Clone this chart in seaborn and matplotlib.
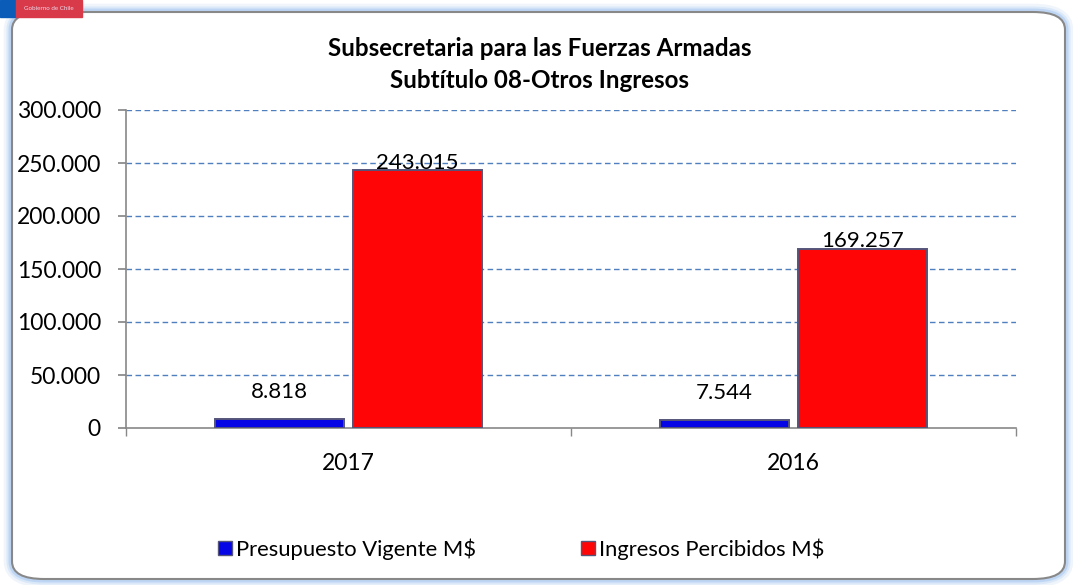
import matplotlib
matplotlib.use("Agg")
import matplotlib.pyplot as plt
import matplotlib.patches as mpatches
from matplotlib.ticker import FuncFormatter, FixedLocator
import pandas as pd
import seaborn as sns

# Data
years = ["2017", "2016"]
series = ["Presupuesto Vigente M$", "Ingresos Percibidos M$"]
presupuesto = [8818, 7544]
ingresos = [243015, 169257]
colors = ["#0505e6", "#ff0505"]

df = pd.DataFrame({
    "year": years * 2,
    "serie": [series[0]] * 2 + [series[1]] * 2,
    "value": presupuesto + ingresos,
})

sns.set_theme(style="white")
plt.rcParams["font.family"] = ["Lato", "DejaVu Sans"]
plt.rcParams["text.color"] = "black"
plt.rcParams["xtick.labelcolor"] = "black"
plt.rcParams["ytick.labelcolor"] = "black"

W, H = 1073, 585
fig = plt.figure(figsize=(W / 100, H / 100), dpi=100)

# Rounded frame with a soft blue glow
for lw, a in [(12, 0.15), (8, 0.25), (5, 0.45)]:
    fig.patches.append(mpatches.FancyBboxPatch(
        (12 / W, 6 / H), (W - 20) / W, (H - 18) / H,
        boxstyle="round,pad=0,rounding_size=0.03", transform=fig.transFigure,
        facecolor="none", edgecolor="#9cc2f0", linewidth=lw, alpha=a, zorder=0))
fig.patches.append(mpatches.FancyBboxPatch(
    (12 / W, 6 / H), (W - 20) / W, (H - 18) / H,
    boxstyle="round,pad=0,rounding_size=0.03", transform=fig.transFigure,
    facecolor="white", edgecolor="#888888", linewidth=1.5, zorder=0))

# Gobierno de Chile badge
fig.patches.append(mpatches.Rectangle((0, 1 - 17 / H), 16 / W, 17 / H,
                                      transform=fig.transFigure, color="#0a5cb8", zorder=3))
fig.patches.append(mpatches.Rectangle((16 / W, 1 - 17 / H), 66 / W, 17 / H,
                                      transform=fig.transFigure, color="#d83a4a", zorder=3))
fig.text(49 / W, 1 - 9 / H, "Gobierno de Chile", fontsize=4.5, color="#e8d8e8",
         ha="center", va="center", zorder=4)

ax = fig.add_axes([126 / W, 1 - 428 / H, (1016 - 126) / W, (428 - 110) / H])
ax.set_facecolor("none")
ax.set_zorder(5)

sns.barplot(data=df, x="year", y="value", hue="serie", hue_order=series,
            order=years, palette=colors, saturation=1, width=0.62, gap=0.06,
            edgecolor="#55557a", linewidth=1.4, ax=ax, legend=False, zorder=3)

ax.set_ylim(0, 300000)
ax.set_xlim(-0.5, 1.5)
ax.set_yticks(range(0, 300001, 50000))
fmt = lambda v, p: f"{int(v):,}".replace(",", ".")
ax.yaxis.set_major_formatter(FuncFormatter(fmt))
ax.tick_params(axis="y", labelsize=16.5, length=6, direction="out", color="#888888",
               pad=12, left=True)
ax.tick_params(axis="x", which="major", length=0, labelsize=16.5, pad=18)
ax.xaxis.set_minor_locator(FixedLocator([-0.5, 0.5, 1.5]))
ax.tick_params(axis="x", which="minor", length=6, direction="out", color="#888888",
               bottom=True)
ax.set_xlabel("")
ax.set_ylabel("")

for y in range(50000, 300001, 50000):
    ax.axhline(y, color="#4f7fbf", linestyle=(0, (4, 2.5)), linewidth=1, zorder=1)

for s in ["top", "right"]:
    ax.spines[s].set_visible(False)
for s in ["left", "bottom"]:
    ax.spines[s].set_color("#888888")
    ax.spines[s].set_linewidth(1.2)

for cont, pad in zip(ax.containers, [12, -2]):
    ax.bar_label(cont, labels=[fmt(v, None) for v in cont.datavalues],
                 fontsize=16, padding=pad, zorder=6, color="black")

fig.text(0.503, 1 - 49 / H, "Subsecretaria para las Fuerzas Armadas",
         fontsize=17.4, fontweight="bold", ha="center", va="center")
fig.text(0.503, 1 - 81 / H, "Subtítulo 08-Otros Ingresos",
         fontsize=17.4, fontweight="bold", ha="center", va="center")

handles = [mpatches.Patch(facecolor=c, edgecolor="#55557a") for c in colors]
fig.legend(handles, series, loc="center", bbox_to_anchor=(0.486, 1 - 549 / H),
           ncol=2, frameon=False, fontsize=15.8, handlelength=0.6, handleheight=0.6,
           handletextpad=0.2, columnspacing=4.8)

fig.savefig("out.png", dpi=100)
